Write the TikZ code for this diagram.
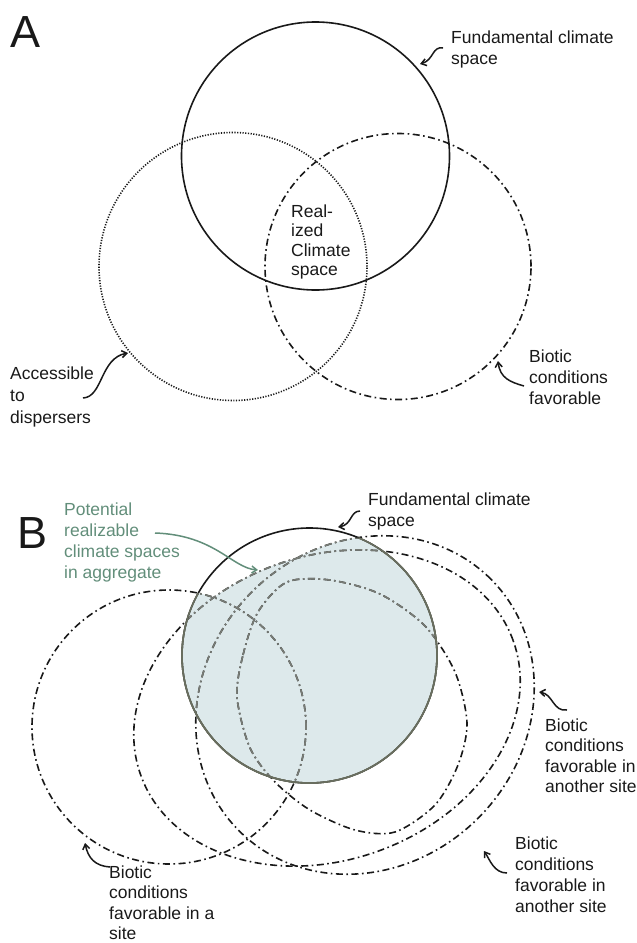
\documentclass[tikz,border=0pt]{standalone}
\usepackage{fontspec}
\setmainfont{Liberation Sans}
\usetikzlibrary{arrows.meta}

\definecolor{fillblue}{RGB}{221,233,235}
\definecolor{ingray}{RGB}{120,124,118}
\definecolor{rimgray}{RGB}{105,110,95}
\definecolor{potgreen}{RGB}{98,142,122}
\definecolor{ink}{RGB}{25,25,25}

\newcommand\pathCone{(169,727) circle[radius=137pt]}
\newcommand\pathCtwo{[rotate around={20:(327,708)}] (327,708) ellipse[x radius=198pt, y radius=152pt]}
\newcommand\pathCthree{plot[smooth cycle] coordinates {(237,697) (243,655) (258,612) (287,582) (330,580) (380,594) (425,626) (455,672) (467,723) (458,765) (435,805) (395,832) (355,830) (310,810) (275,782) (250,748)}}
\newcommand\pathCfour{[rotate around={45:(365,705)}] (365,705) ellipse[x radius=178pt, y radius=160pt]}
\newcommand\pathFund{(309.5,655.5) circle[radius=127.5pt]}

\tikzset{
  lbl/.style={inner sep=0pt, anchor=base west, align=left, text=ink, font=\fontsize{17.5}{21}\selectfont},
  panel/.style={inner sep=0pt, anchor=base west, text=ink, font=\fontsize{45}{45}\selectfont},
  solidc/.style={draw=ink, line width=1.6pt},
  dotc/.style={draw=ink, line width=1.6pt, dash pattern=on 1.2pt off 1.5pt},
  dashdot/.style={line width=1.6pt, dash pattern=on 7pt off 3.5pt on 1.6pt off 3.5pt},
  curly/.style={draw=ink, line width=1.5pt, -{Straight Barb[length=5pt,width=7pt]}},
}

\begin{document}
\begin{tikzpicture}[x=1pt,y=-1pt]
\useasboundingbox (0,0) rectangle (637,943);

% ---------------- Panel A ----------------
\node[panel] (labA) at (10,47) {A};
\draw[solidc] (315.5,156) circle[radius=134pt];
\draw[dotc] (233,266.5) circle[radius=134pt];
\draw[dashdot, draw=ink] (398,266.5) circle[radius=133pt];

% anchor = baseline of the last line
\node[lbl] (fundA) at (451,64) {Fundamental climate\\space};
\node[lbl, font=\fontsize{17.5}{19.5}\selectfont] (real) at (291,275.5) {Real-\\ized\\Climate\\space};
\node[lbl, font=\fontsize{17.5}{22}\selectfont] (accA) at (10,423) {Accessible\\to\\dispersers};
\node[lbl] (bioA) at (529,404) {Biotic\\conditions\\favorable};

\coordinate (fAt) at (443,48);  \coordinate (fAh) at (420,64);
\coordinate (aAt) at (83,398);  \coordinate (aAh) at (128,353);
\coordinate (bAt) at (524,386); \coordinate (bAh) at (498,361);
\draw[curly] (fAt) .. controls (432,46) and (434,60) .. (fAh);
\draw[curly] (aAt) .. controls (103,397) and (100,358) .. (aAh);
\draw[curly] (bAt) .. controls (510,382) and (500,378) .. (bAh);

% ---------------- Panel B ----------------
\node[panel] (labB) at (17,548) {B};

% fill: fundamental circle intersected with union of biotic regions
\begin{scope}
  \clip \pathFund;
  \fill[fillblue] \pathCone;
  \fill[fillblue] \pathCtwo;
  \fill[fillblue] \pathCthree;
  \fill[fillblue] \pathCfour;
\end{scope}

% biotic outlines (black outside)
\draw[dashdot, draw=ink] \pathCone;
\draw[dashdot, draw=ink] \pathCtwo;
\draw[dashdot, draw=ink] \pathCthree;
\draw[dashdot, draw=ink] \pathCfour;

% gray inside the fundamental circle
\begin{scope}
  \clip \pathFund;
  \draw[dashdot, draw=ingray] \pathCone;
  \draw[dashdot, draw=ingray] \pathCtwo;
  \draw[dashdot, draw=ingray] \pathCthree;
  \draw[dashdot, draw=ingray] \pathCfour;
\end{scope}

% fundamental circle: black, gray where it bounds the shaded area
\draw[solidc] \pathFund;
\begin{scope}\clip \pathCone;   \draw[draw=rimgray, line width=1.6pt] \pathFund;\end{scope}
\begin{scope}\clip \pathCtwo;   \draw[draw=rimgray, line width=1.6pt] \pathFund;\end{scope}
\begin{scope}\clip \pathCfour;  \draw[draw=rimgray, line width=1.6pt] \pathFund;\end{scope}

\node[lbl, text=potgreen] (pot) at (64,578) {Potential\\realizable\\climate spaces\\in aggregate};
\node[lbl] (fundB) at (368,526) {Fundamental climate\\space};
\node[lbl, font=\fontsize{17.5}{20.5}\selectfont] (bio1) at (545,792.5) {Biotic\\conditions\\favorable in\\another site};
\node[lbl, font=\fontsize{17.5}{20.7}\selectfont] (bio2) at (515,912) {Biotic\\conditions\\favorable in\\another site};
\node[lbl, font=\fontsize{17.5}{20.5}\selectfont] (bio3) at (109,939.5) {Biotic\\conditions\\favorable in a\\site};

\coordinate (pBt) at (155,533); \coordinate (pBh) at (258,570);
\coordinate (fBt) at (360,511); \coordinate (fBh) at (338,527);
\coordinate (b1t) at (567,710); \coordinate (b1h) at (539,692);
\coordinate (b2t) at (507,873); \coordinate (b2h) at (484,851);
\coordinate (b3t) at (110,867); \coordinate (b3h) at (85,843);
\draw[curly, draw=potgreen] (pBt) .. controls (215,535) and (232,568) .. (pBh);
\draw[curly] (fBt) .. controls (350,511) and (352,525) .. (fBh);
\draw[curly] (b1t) .. controls (553,712) and (553,694) .. (b1h);
\draw[curly] (b2t) .. controls (494,873) and (490,860) .. (b2h);
\draw[curly] (b3t) .. controls (95,866) and (88,858) .. (b3h);
\end{tikzpicture}
\end{document}
